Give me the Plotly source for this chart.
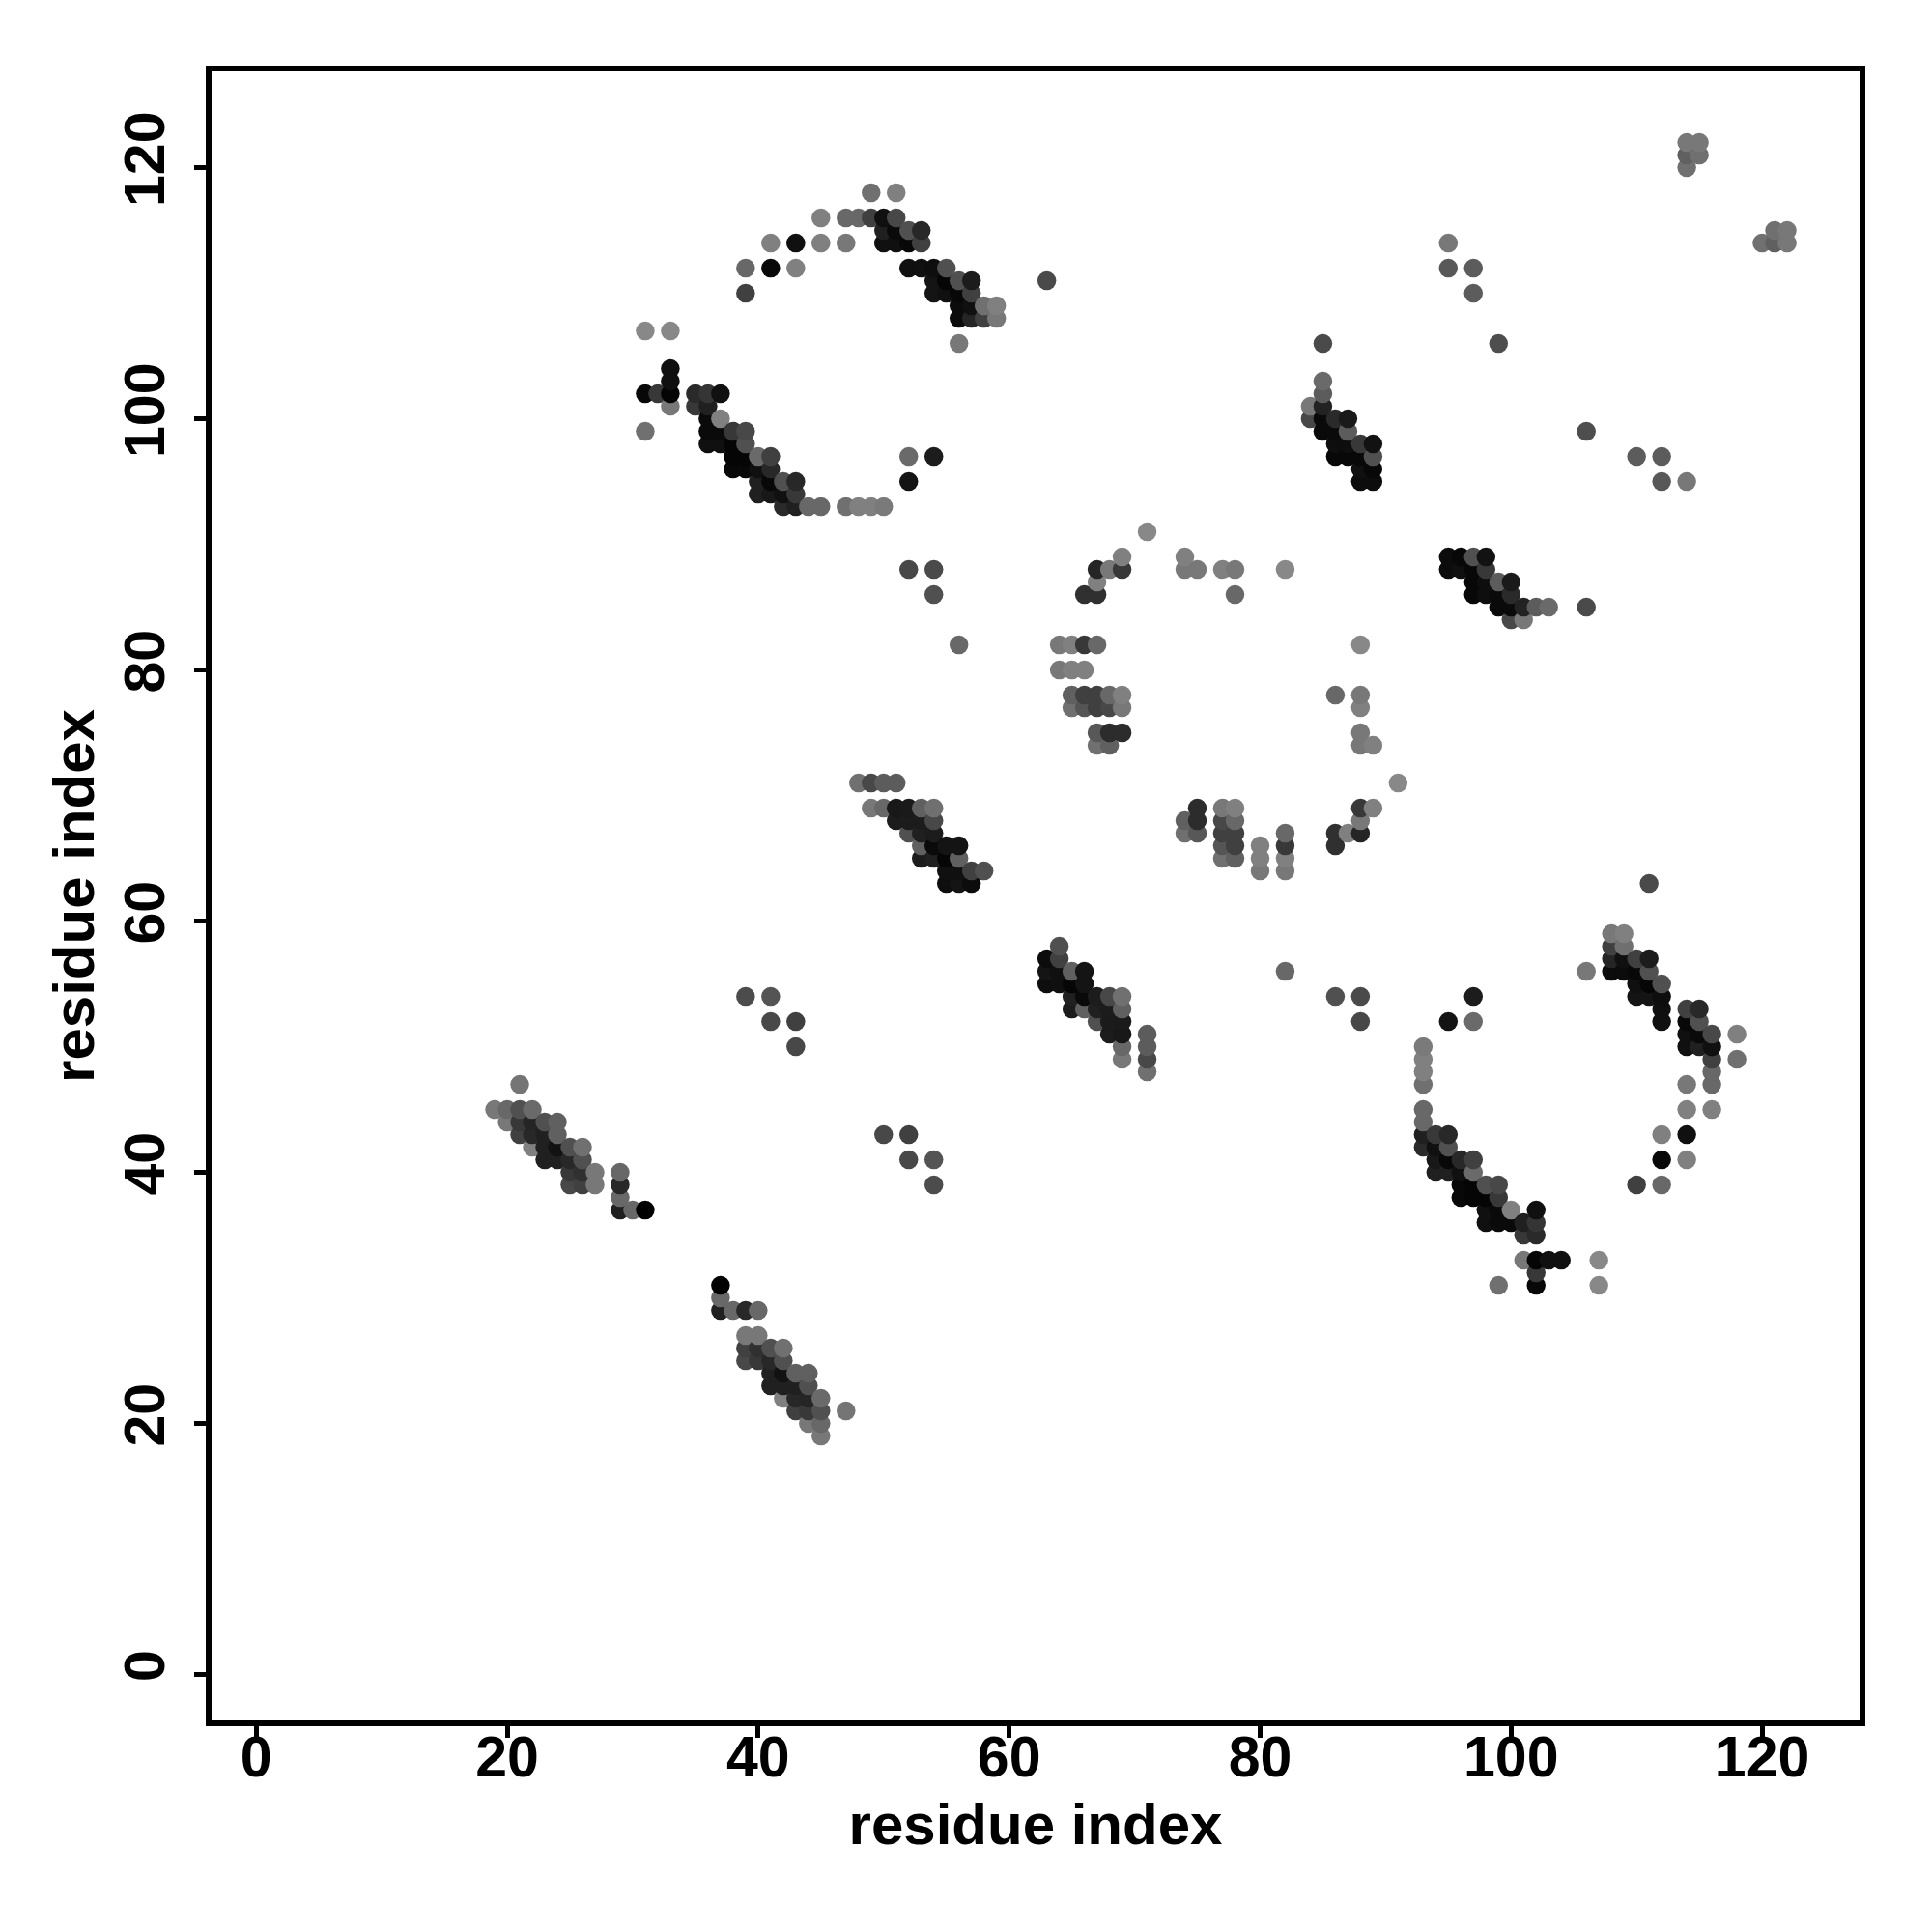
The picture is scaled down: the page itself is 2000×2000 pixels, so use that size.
import plotly.graph_objects as go

# contacts: (residue i, residue j, grey level); the map is symmetric about the diagonal
cluster_a = [
 (21,47,0x75),(19,45,0x78),(20,45,0x68),(21,45,0x50),(22,45,0x6a),
 (20,44,0x78),(21,44,0x38),(22,44,0x25),(23,44,0x50),(24,44,0x60),
 (21,43,0x40),(22,43,0x28),(23,43,0x20),(24,43,0x60),
 (22,42,0x80),(23,42,0x20),(24,42,0x12),(25,42,0x50),(26,42,0x70),
 (23,41,0x20),(24,41,0x20),(25,41,0x28),(26,41,0x50),
 (25,40,0x38),(26,40,0x30),(27,40,0x78),(25,39,0x48),(26,39,0x40),(27,39,0x78),
 (29,40,0x68),(29,39,0x28),(29,38,0x68),(29,37,0x20),(30,37,0x68),(31,37,0x00),
]
cluster_b = [
 (31,107,0x88),(33,107,0x88),(33,104,0x10),(33,103,0x10),
 (31,102,0x08),(32,102,0x38),(33,102,0x05),(35,102,0x2a),(36,102,0x35),(37,102,0x10),
 (33,101,0x78),(35,101,0x38),(36,101,0x20),(36,100,0x0a),(37,100,0x80),
 (31,99,0x70),(36,99,0x0a),(37,99,0x0a),(38,99,0x38),(39,99,0x48),
 (36,98,0x10),(37,98,0x10),(38,98,0x05),(39,98,0x50),
 (38,97,0x05),(39,97,0x05),(40,97,0x6a),(41,97,0x40),
 (38,96,0x08),(39,96,0x08),(40,96,0x10),(41,96,0x28),
 (40,95,0x20),(41,95,0x08),(42,95,0x50),(43,95,0x28),
 (40,94,0x20),(41,94,0x18),(42,94,0x10),(43,94,0x38),
 (42,93,0x2a),(43,93,0x20),(44,93,0x68),(45,93,0x68),(47,93,0x70),(48,93,0x80),(49,93,0x80),(50,93,0x7a),
 (52,97,0x6a),(54,97,0x1c),(52,95,0x14),
]
cluster_c = [
 (59,108,0x78),(59,109,0x80),(58,108,0x40),(58,109,0x70),
 (57,108,0x25),(57,109,0x10),(57,110,0x40),(57,111,0x1c),
 (56,106,0x78),(56,108,0x0c),(56,109,0x0c),(56,110,0x08),(56,111,0x50),
 (55,110,0x10),(55,111,0x06),(55,112,0x50),(54,110,0x14),(54,111,0x14),(54,112,0x0e),
 (53,112,0x10),(53,114,0x40),(53,115,0x28),(52,112,0x10),(52,114,0x08),(52,115,0x50),
 (51,114,0x10),(51,115,0x0a),(51,116,0x48),(51,118,0x80),
 (50,114,0x10),(50,115,0x20),(50,116,0x10),(49,116,0x40),(49,118,0x70),
 (48,116,0x68),(47,114,0x78),(47,116,0x68),(45,114,0x80),(45,116,0x80),
 (43,112,0x80),(43,114,0x10),(41,112,0x08),(41,114,0x80),(39,110,0x40),(39,112,0x68),
 (63,111,0x4a),
]
cluster_d = [
 (39,54,0x4c),(41,54,0x54),(41,52,0x48),(43,52,0x40),(43,50,0x48),
 (52,88,0x48),(54,88,0x4a),(54,86,0x50),(56,82,0x68),
]
cluster_e = [
 (48,71,0x70),(49,71,0x48),(50,71,0x5c),(51,71,0x5c),
 (49,69,0x78),(50,69,0x68),(51,69,0x18),(52,69,0x1a),(53,69,0x60),(54,69,0x70),
 (51,68,0x1c),(52,68,0x1c),(53,68,0x1c),(54,68,0x48),
 (52,67,0x50),(53,67,0x20),(54,67,0x1c),
 (53,66,0x60),(54,66,0x0a),(55,66,0x14),(56,66,0x14),
 (53,65,0x1c),(54,65,0x20),(55,65,0x06),(56,65,0x60),
 (55,64,0x10),(56,64,0x10),(57,64,0x40),(58,64,0x50),
 (55,63,0x0e),(56,63,0x14),(57,63,0x0c),
]
cluster_f = [
 (85,106,0x4a),(85,103,0x6a),(85,102,0x5c),(84,101,0x78),(85,101,0x22),
 (84,100,0x48),(85,100,0x0a),(86,100,0x2a),(87,100,0x1a),
 (85,99,0x0a),(86,99,0x0a),(87,99,0x5c),
 (86,98,0x0e),(87,98,0x0e),(88,98,0x38),(89,98,0x12),
 (86,97,0x08),(87,97,0x08),(88,97,0x08),(89,97,0x50),
 (88,96,0x10),(89,96,0x08),(88,95,0x0c),(89,95,0x0c),
 (95,112,0x58),(95,114,0x78),(97,110,0x5c),(97,112,0x5c),(99,106,0x4e),
]
cluster_g = [
 (69,89,0x80),(74,89,0x80),(67,88,0x25),(68,88,0x78),(69,88,0x38),
 (74,88,0x78),(75,88,0x78),(77,88,0x80),(78,88,0x78),(82,88,0x88),
 (67,87,0x80),(66,86,0x30),(67,86,0x30),(78,86,0x68),
 (64,82,0x78),(65,82,0x80),(66,82,0x38),(67,82,0x68),
 (64,80,0x78),(65,80,0x80),(66,80,0x80),
 (65,78,0x60),(66,78,0x40),(67,78,0x40),(68,78,0x68),(69,78,0x80),
 (65,77,0x70),(66,77,0x55),(67,77,0x40),(68,77,0x48),(69,77,0x78),
 (67,75,0x58),(68,75,0x2c),(69,75,0x2c),(67,74,0x70),(68,74,0x60),
 (71,91,0x88),
]
cluster_h = [
 (114,122,0x78),(115,122,0x78),(114,121,0x60),(115,121,0x70),(114,120,0x70),
]

groups = [cluster_a, cluster_b, cluster_c, cluster_d, cluster_e, cluster_f, cluster_g, cluster_h]
tick_values = [0, 20, 40, 60, 80, 100, 120]
x_range = [-3.56, 127.77]
y_range = [-3.65, 127.66]

pts = {}
for g in groups:
    for i, j, grey in g:
        pts[(i, j)] = grey
        pts[(j, i)] = grey
order = sorted(pts, key=lambda p: (p[0], p[1]))
xs = [p[0] for p in order]
ys = [p[1] for p in order]
cols = [f"rgb({pts[p]},{pts[p]},{pts[p]})" for p in order]

font = "Liberation Sans"
text = dict(family=font, size=59, color="black", weight="bold")
title_text = dict(family=font, size=60, color="black", weight="bold")
axis = dict(
    tickmode="array", tickvals=tick_values, ticks="outside", ticklen=12, tickwidth=5,
    tickcolor="black", showline=True, linecolor="black", linewidth=6, mirror=True,
    showgrid=False, zeroline=False, tickfont=text, automargin=False,
)
fig = go.Figure(go.Scatter(x=xs, y=ys, mode="markers",
                           marker=dict(size=19.5, color=cols, line=dict(width=0)),
                           hoverinfo="skip"))
fig.update_layout(
    width=2000, height=2000, paper_bgcolor="white", plot_bgcolor="white",
    margin=dict(l=219, r=75, t=74, b=219, autoexpand=False), showlegend=False,
    xaxis=dict(range=x_range, ticklabelstandoff=-31,
               title=dict(text="residue index", standoff=18, font=title_text), **axis),
    yaxis=dict(range=y_range, tickangle=-90, ticklabelstandoff=7,
               title=dict(text="residue index", standoff=2, font=title_text), **axis),
    font=dict(family=font),
)
fig.write_html("out.html", config=dict(displayModeBar=False),
               post_script="document.body.style.margin='0';")
